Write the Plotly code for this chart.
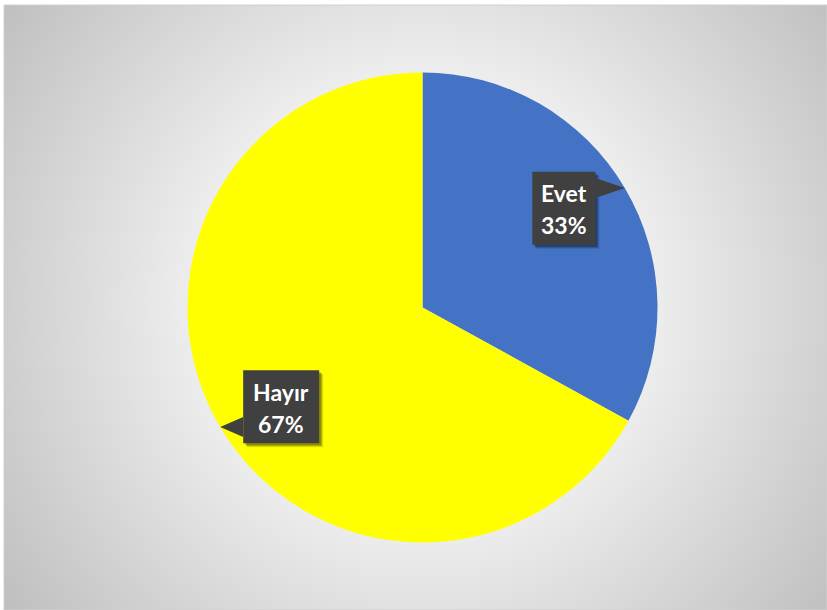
import math
import base64
import plotly.graph_objects as go

# Survey answers
labels = ["Evet", "Hayır"]
values = [33, 67]
colors = ["#4472C4", "#FFFF00"]

# Canvas and pie geometry (pixels)
W, H = 827, 610
CX, CY, R = 422.5, 307.5, 235
FRAME = (4, 5, 827, 610)          # chart area left, top, right, bottom
BOX_W = {"Evet": 63, "Hayır": 76}
BOX_H = 73


def px(x):
    return x / W


def py(y):
    return 1 - y / H


def polar(angle_deg, dist):
    a = math.radians(angle_deg)
    return CX + dist * math.sin(a), CY - dist * math.cos(a)


fig = go.Figure(
    go.Pie(
        labels=labels,
        values=values,
        sort=False,
        direction="clockwise",
        rotation=0,
        marker=dict(colors=colors, line=dict(width=0)),
        textinfo="none",
        hoverinfo="label+percent",
        showlegend=False,
        domain=dict(x=[px(CX - R), px(CX + R)], y=[py(CY + R), py(CY - R)]),
    )
)

# Radial grey gradient behind the chart area
fw, fh = FRAME[2] - FRAME[0], FRAME[3] - FRAME[1]
svg = (
    f'<svg xmlns="http://www.w3.org/2000/svg" width="{fw}" height="{fh}" '
    f'viewBox="0 0 {fw} {fh}" preserveAspectRatio="none">'
    f'<defs><radialGradient id="g" gradientUnits="userSpaceOnUse" '
    f'cx="{CX - FRAME[0]}" cy="{CY - FRAME[1] - 5}" r="515">'
    '<stop offset="0" stop-color="#F3F3F3"/>'
    '<stop offset="0.45" stop-color="#EDEDED"/>'
    '<stop offset="1" stop-color="#BFBFBF"/>'
    '</radialGradient></defs>'
    f'<rect x="0" y="0" width="{fw}" height="{fh}" fill="url(#g)"/></svg>'
)
src = "data:image/svg+xml;base64," + base64.b64encode(svg.encode()).decode()

shapes = [
    dict(type="rect", xref="paper", yref="paper",
         x0=px(FRAME[0]), x1=px(FRAME[2]), y0=py(FRAME[3]), y1=py(FRAME[1]),
         line=dict(color="#D0D0D0", width=1), fillcolor="rgba(0,0,0,0)", layer="below"),
]
annotations = []

# Callout labels pointing at the middle of each slice's arc
total = sum(values)
start = 0.0
for lab, val in zip(labels, values):
    span = 360.0 * val / total
    mid = start + span / 2
    start += span

    tx, ty = polar(mid, R)                 # pointer tip on the rim
    bx, by = polar(mid - 4.5, R * 0.735)   # box centre
    w2, h2 = BOX_W[lab] / 2, BOX_H / 2
    x0, x1, y0, y1 = bx - w2, bx + w2, by - h2, by + h2

    # soft drop shadow
    for off, op in [(4, 0.12), (3, 0.18), (2, 0.22)]:
        shapes.append(dict(type="rect", xref="paper", yref="paper",
                           x0=px(x0 + off), x1=px(x1 + off),
                           y0=py(y1 + off), y1=py(y0 + off),
                           line=dict(width=0), fillcolor=f"rgba(0,0,0,{op})"))

    # pointer triangle from the facing side of the box
    side = x1 if tx > bx else x0
    base_y = min(max(ty, y0 + 12), y1 - 12)
    path = (f"M {px(side)},{py(base_y - 10)} L {px(tx)},{py(ty)} "
            f"L {px(side)},{py(base_y + 10)} Z")
    shapes.append(dict(type="path", xref="paper", yref="paper", path=path,
                       line=dict(width=0), fillcolor="#404040"))
    shapes.append(dict(type="rect", xref="paper", yref="paper",
                       x0=px(x0), x1=px(x1), y0=py(y1), y1=py(y0),
                       line=dict(width=0), fillcolor="#404040"))

    pct = round(100.0 * val / total)
    for text, dy in [(lab, -15), (f"{pct}%", 17)]:
        annotations.append(dict(
            xref="paper", yref="paper", x=px(bx), y=py(by + dy),
            xanchor="center", yanchor="middle", showarrow=False,
            text=f"<b>{text}</b>",
            font=dict(family="Lato, 'Open Sans', sans-serif", size=23, color="#FFFFFF"),
        ))

fig.update_layout(
    width=W, height=H,
    margin=dict(l=0, r=0, t=0, b=0),
    paper_bgcolor="#FFFFFF",
    plot_bgcolor="#FFFFFF",
    images=[dict(source=src, xref="paper", yref="paper",
                 x=px(FRAME[0]), y=py(FRAME[1]), sizex=fw / W, sizey=fh / H,
                 xanchor="left", yanchor="top", sizing="stretch", layer="below")],
    shapes=shapes,
    annotations=annotations,
)

fig.write_html("out.html")
